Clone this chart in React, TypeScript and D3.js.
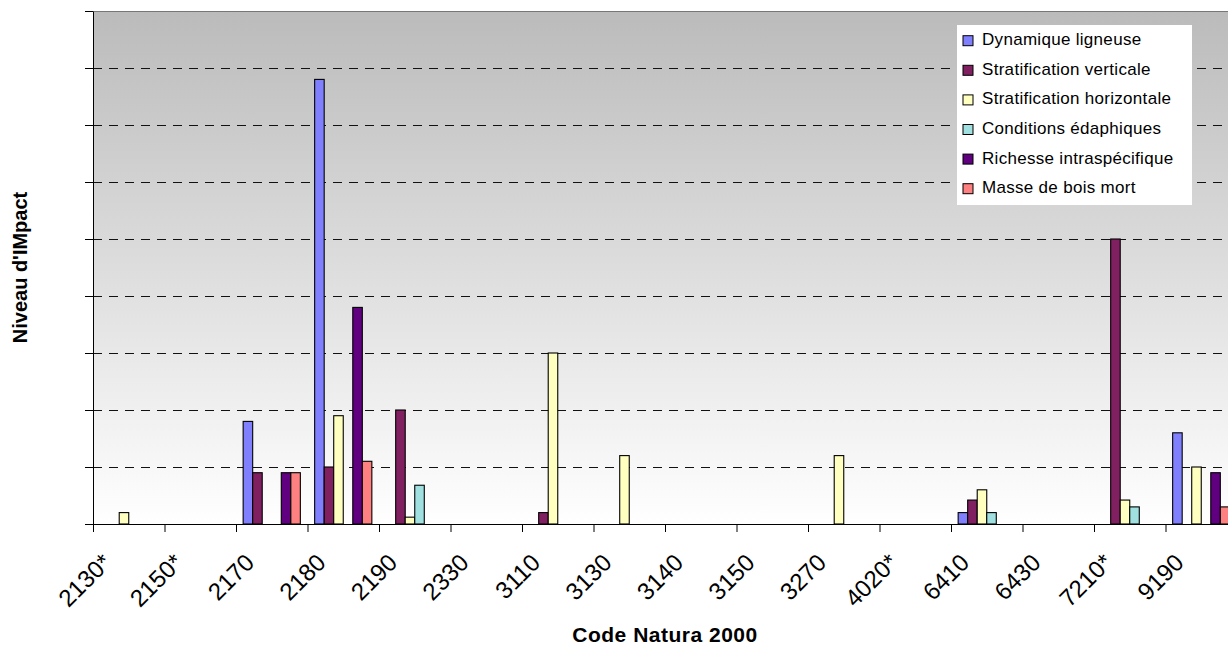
import React, { useEffect, useRef } from 'react';
import * as d3 from 'd3';

// Codes Natura 2000 (axe des catégories)
const categories = [
  '2130*', '2150*', '2170', '2180', '2190', '2330', '3110', '3130',
  '3140', '3150', '3270', '4020*', '6410', '6430', '7210*', '9190',
];

const seriesNames = [
  'Dynamique ligneuse',
  'Stratification verticale',
  'Stratification horizontale',
  'Conditions édaphiques',
  'Richesse intraspécifique',
  'Masse de bois mort',
];

// valeurs (une grille = 0.5)
const dynamiqueLigneuse = [0, 0, 0.9, 3.9, 0, 0, 0, 0, 0, 0, 0, 0, 0.1, 0, 0, 0.8];
const stratVerticale = [0, 0, 0.45, 0.5, 1.0, 0, 0.1, 0, 0, 0, 0, 0, 0.21, 0, 2.5, 0];
const stratHorizontale = [0.1, 0, 0, 0.95, 0.06, 0, 1.5, 0.6, 0, 0, 0.6, 0, 0.3, 0, 0.21, 0.5];
const conditionsEdaphiques = [0, 0, 0, 0, 0.34, 0, 0, 0, 0, 0, 0, 0, 0.1, 0, 0.15, 0];
const richesseIntra = [0, 0, 0.45, 1.9, 0, 0, 0, 0, 0, 0, 0, 0, 0, 0, 0, 0.45];
const masseBoisMort = [0, 0, 0.45, 0.55, 0, 0, 0, 0, 0, 0, 0, 0, 0, 0, 0, 0.15];

const seriesValues = [
  dynamiqueLigneuse,
  stratVerticale,
  stratHorizontale,
  conditionsEdaphiques,
  richesseIntra,
  masseBoisMort,
];

const seriesColors = ['#8080FF', '#802060', '#FFFFC0', '#A0E0E0', '#600080', '#FF8080'];

const yTicks = [0, 0.5, 1, 1.5, 2, 2.5, 3, 3.5, 4, 4.5];

type Bar = { cat: string; series: number; value: number };

const App: React.FC = () => {
  const svgRef = useRef<SVGSVGElement>(null);

  useEffect(() => {
    const svgEl = svgRef.current;
    if (!svgEl) return;
    const svg = d3.select(svgEl);
    svg.selectAll('*').remove();

    /* ---------- Layout ---------- */
    const left = 93;
    const right = 1237; // plot runs past the picture edge
    const top = 11;
    const bottom = 524;
    const font = '"Liberation Sans", Arial, sans-serif';

    /* ---------- Scales ---------- */
    const x = d3.scaleBand<string>().domain(categories).range([left, right]).padding(0);
    const xInner = d3
      .scaleBand<number>()
      .domain(d3.range(seriesNames.length))
      .range([0, x.bandwidth()])
      .paddingInner(0)
      .paddingOuter(0.75);
    const y = d3.scaleLinear().domain([0, 4.5]).range([bottom, top]);

    /* ---------- Background gradient ---------- */
    const defs = svg.append('defs');
    const grad = defs
      .append('linearGradient')
      .attr('id', 'plotBg')
      .attr('x1', 0)
      .attr('y1', 0)
      .attr('x2', 0)
      .attr('y2', 1);
    grad.append('stop').attr('offset', '0%').attr('stop-color', '#bbbbbb');
    grad.append('stop').attr('offset', '100%').attr('stop-color', '#ffffff');

    svg
      .append('rect')
      .attr('x', left)
      .attr('y', top)
      .attr('width', right - left)
      .attr('height', bottom - top)
      .attr('fill', 'url(#plotBg)');

    /* ---------- Gridlines ---------- */
    svg
      .append('g')
      .selectAll('line')
      .data(yTicks.filter(t => t > 0 && t < 4.5))
      .enter()
      .append('line')
      .attr('x1', left)
      .attr('x2', right)
      .attr('y1', d => y(d) + 0.5)
      .attr('y2', d => y(d) + 0.5)
      .attr('stroke', '#111')
      .attr('stroke-width', 1)
      .attr('stroke-dasharray', '9,7');

    svg
      .append('line')
      .attr('x1', left)
      .attr('x2', right)
      .attr('y1', y(4.5) + 0.5)
      .attr('y2', y(4.5) + 0.5)
      .attr('stroke', '#777')
      .attr('stroke-width', 1);

    /* ---------- Bars ---------- */
    const bars: Bar[] = [];
    categories.forEach((cat, ci) => {
      seriesValues.forEach((vals, si) => {
        if (vals[ci] > 0) bars.push({ cat, series: si, value: vals[ci] });
      });
    });

    svg
      .append('g')
      .selectAll('rect')
      .data(bars)
      .enter()
      .append('rect')
      .attr('x', d => x(d.cat)! + xInner(d.series)!)
      .attr('y', d => y(d.value))
      .attr('width', xInner.bandwidth())
      .attr('height', d => y(0) - y(d.value))
      .attr('fill', d => seriesColors[d.series])
      .attr('stroke', '#000')
      .attr('stroke-width', 1.1);

    /* ---------- Axes ---------- */
    const yAxis = d3
      .axisLeft(y)
      .tickValues(yTicks)
      .tickSize(8)
      .tickSizeOuter(0)
      .tickFormat(() => '');
    svg
      .append('g')
      .attr('transform', `translate(${left},0)`)
      .call(yAxis)
      .call(g => g.selectAll('line,path').attr('stroke', '#000'));

    const xEdges = d3.scaleLinear().domain([0, categories.length]).range([left, right]);
    const xAxis = d3
      .axisBottom(xEdges)
      .tickValues(d3.range(categories.length + 1))
      .tickSize(8)
      .tickSizeOuter(0)
      .tickFormat(() => '');
    svg
      .append('g')
      .attr('transform', `translate(0,${bottom})`)
      .call(xAxis)
      .call(g => g.selectAll('line,path').attr('stroke', '#000'));

    // rotated category labels
    svg
      .append('g')
      .selectAll('text')
      .data(categories)
      .enter()
      .append('text')
      .attr('transform', d => `translate(${x(d)! + x.bandwidth() / 2 - 16},${bottom + 40}) rotate(-45)`)
      .attr('text-anchor', 'end')
      .style('font-family', font)
      .style('font-size', '24px')
      .attr('fill', '#000')
      .text(d => d);

    /* ---------- Axis titles ---------- */
    svg
      .append('text')
      .attr('x', (left + right) / 2)
      .attr('y', 642)
      .attr('text-anchor', 'middle')
      .style('font-family', font)
      .style('font-size', '21px')
      .style('font-weight', 'bold')
      .style('letter-spacing', '0.5px')
      .text('Code Natura 2000');

    svg
      .append('text')
      .attr('transform', `translate(27,${(top + bottom) / 2}) rotate(-90)`)
      .attr('text-anchor', 'middle')
      .style('font-family', font)
      .style('font-size', '20px')
      .style('font-weight', 'bold')
      .text("Niveau d'IMpact");

    /* ---------- Legend ---------- */
    const legend = svg.append('g').attr('transform', 'translate(957,25)');
    legend.append('rect').attr('width', 235).attr('height', 180).attr('fill', '#fff');
    const rowY = (i: number) => 15.7 + i * 29.6;
    legend
      .selectAll('rect.swatch')
      .data(seriesNames)
      .enter()
      .append('rect')
      .attr('class', 'swatch')
      .attr('x', 6)
      .attr('y', (_d, i) => rowY(i) - 5)
      .attr('width', 10)
      .attr('height', 10)
      .attr('fill', (_d, i) => seriesColors[i])
      .attr('stroke', '#000')
      .attr('stroke-width', 1);
    legend
      .selectAll('text')
      .data(seriesNames)
      .enter()
      .append('text')
      .attr('x', 25)
      .attr('y', (_d, i) => rowY(i))
      .attr('dominant-baseline', 'middle')
      .style('font-family', font)
      .style('font-size', '17px')
      .style('letter-spacing', '0.3px')
      .text(d => d);
  }, []);

  return (
    <svg
      ref={svgRef}
      width={1228}
      height={646}
      style={{ position: 'absolute', left: 0, top: 0, background: '#fff' }}
    />
  );
};

export default App;
